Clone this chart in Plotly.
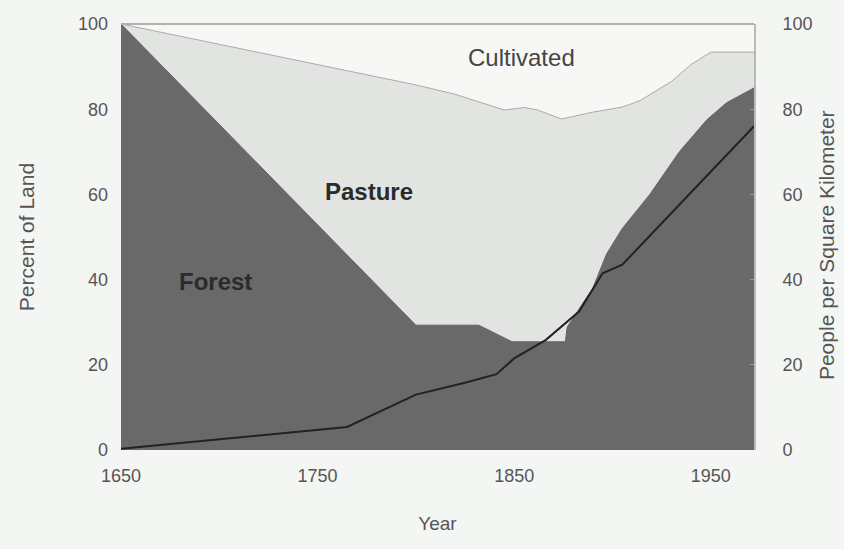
import plotly.graph_objects as go

# Forest: percent of land (top of dark region)
forest_year = [1650, 1800, 1832, 1849, 1876, 1877, 1890, 1897, 1905, 1919, 1934, 1948, 1958, 1972]
forest_pct = [100, 29.3, 29.3, 25.4, 25.4, 28.9, 38, 46, 52, 60, 70, 77.5, 81.5, 85]

# Forest + Pasture: percent of land (top of light-gray region)
pasture_year = [1650, 1800, 1820, 1845, 1855, 1862, 1874, 1890, 1905, 1914, 1930, 1940, 1950, 1972]
pasture_top = [100, 85.7, 83.5, 79.8, 80.4, 79.8, 77.7, 79.3, 80.5, 82, 86.5, 90.5, 93.4, 93.4]

# Population density (people per square kilometer)
pop_year = [1650, 1765, 1800, 1825, 1841, 1850, 1866, 1883, 1895, 1905, 1972]
pop_density = [0.3, 5.4, 13, 15.8, 17.8, 21.5, 25.8, 32.5, 41.5, 43.5, 76]

y_ticks = [0, 20, 40, 60, 80, 100]
x_ticks = [1650, 1750, 1850, 1950]

FONT = "Arial, Liberation Sans, sans-serif"
BG = "#f4f6f3"

fig = go.Figure()
fig.add_trace(go.Scatter(
    x=pasture_year, y=pasture_top, mode="lines", fill="tozeroy",
    fillcolor="#e2e4e2", line=dict(color="#a9aba9", width=1),
    hoverinfo="skip", showlegend=False))
fig.add_trace(go.Scatter(
    x=forest_year, y=forest_pct, mode="lines", fill="tozeroy",
    fillcolor="#696969", line=dict(color="#666666", width=1),
    hoverinfo="skip", showlegend=False))
fig.add_trace(go.Scatter(
    x=pop_year, y=pop_density, mode="lines", yaxis="y2",
    line=dict(color="#262024", width=2),
    hoverinfo="skip", showlegend=False))

fig.update_layout(
    width=844, height=549,
    margin=dict(l=121, r=90, t=24, b=99),
    paper_bgcolor=BG, plot_bgcolor="#f7f8f6",
    font=dict(family=FONT, size=18, color="#555555"),
    xaxis=dict(range=[1650, 1972], tickvals=x_ticks, showgrid=False,
               zeroline=False, showline=False, ticks="", automargin=False,
               ticklabelstandoff=13,
               title=dict(text="Year", font=dict(size=19, color="#555555"), standoff=31)),
    yaxis=dict(range=[0, 100], tickvals=y_ticks, showgrid=False,
               zeroline=False, showline=False, ticks="", automargin=False,
               ticklabelstandoff=12,
               title=dict(text="Percent of Land", font=dict(size=21, color="#555555"), standoff=37)),
    yaxis2=dict(range=[0, 100], tickvals=y_ticks, overlaying="y", side="right",
                showgrid=False, zeroline=False, showline=True, linecolor="#b8bab8",
                linewidth=2, ticks="inside", ticklen=4, tickcolor="#9a9c9a",
                automargin=False, ticklabelstandoff=23),
    shapes=[dict(type="line", xref="paper", yref="paper", x0=0, x1=1, y0=1, y1=1,
                 line=dict(color="#b0b2b0", width=2))],
    annotations=[
        dict(text="People per Square Kilometer", xref="paper", yref="paper",
             x=1.1137, y=0.481, textangle=-90, xanchor="center", yanchor="middle",
             showarrow=False, font=dict(size=21, color="#555555")),
        dict(text="Cultivated", xref="paper", yref="paper", x=0.632, y=0.922,
             xanchor="center", yanchor="middle",
             showarrow=False, font=dict(size=24, color="#454545")),
        dict(text="<b>Pasture</b>", xref="paper", yref="paper", x=0.391, y=0.607,
             xanchor="center", yanchor="middle",
             showarrow=False, font=dict(size=24, color="#2b2b2b")),
        dict(text="<b>Forest</b>", xref="paper", yref="paper", x=0.15, y=0.396,
             xanchor="center", yanchor="middle",
             showarrow=False, font=dict(size=24, color="#2b2b2b")),
    ],
)

fig.write_html("out.html", config={"displayModeBar": False},
               post_script="document.body.style.margin='0';document.body.style.background='%s';" % BG)
